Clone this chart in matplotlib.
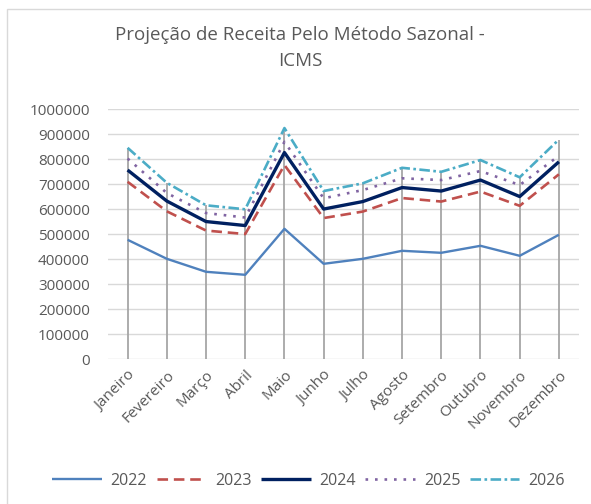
import numpy as np
import matplotlib

matplotlib.use("Agg")
import matplotlib.pyplot as plt
from matplotlib.patches import Rectangle

# Dados (valores aproximados)
meses = ["Janeiro", "Fevereiro", "Março", "Abril", "Maio", "Junho", "Julho",
         "Agosto", "Setembro", "Outubro", "Novembro", "Dezembro"]
anos = ["2022", "2023", "2024", "2025", "2026"]

icms_2022 = [478000, 402000, 350000, 338000, 522000, 382000,
             402000, 434000, 426000, 454000, 414000, 498000]
icms_2023 = [710000, 592000, 515000, 501000, 777000, 565000,
             591000, 645000, 631000, 671000, 614000, 740000]
icms_2024 = [757000, 633000, 551000, 535000, 827000, 601000,
             631000, 687000, 673000, 717000, 651000, 790000]
icms_2025 = [803000, 665000, 585000, 567000, 870000, 644000,
             677000, 724000, 717000, 753000, 697000, 814000]
icms_2026 = [846000, 706000, 616000, 600000, 925000, 673000,
             704000, 766000, 750000, 797000, 728000, 879000]

yticks = list(range(0, 1000001, 100000))

TXT = "#595959"
plt.rcParams["font.family"] = ["Open Sans", "DejaVu Sans"]

fig = plt.figure(figsize=(5.91, 5.04), dpi=100)
fig.patches.append(Rectangle((7 / 591, -0.01), 1.0, 1 - 9 / 504 + 0.01,
                             transform=fig.transFigure, fill=False,
                             edgecolor="#D9D9D9", lw=1.0))

ax = fig.add_axes([108 / 591, 1 - 359.3 / 504, 470.5 / 591, 250 / 504])

x = np.arange(len(meses))
series = [icms_2022, icms_2023, icms_2024, icms_2025, icms_2026]
topo = np.max(np.array(series), axis=0)

# linhas de queda (drop lines)
ax.vlines(x, 0, topo, colors="#A6A6A6", lw=1.3, zorder=2)

estilos = [
    dict(color="#4F81BD", lw=1.7, ls="-"),
    dict(color="#C0504D", lw=1.9, dashes=(4, 2.2)),
    dict(color="#002060", lw=2.4, ls="-"),
    dict(color="#8064A2", lw=1.9, dashes=(1, 2.6)),
    dict(color="#4BACC6", lw=1.9, dashes=(4, 1.3, 1, 1.3)),
]
for ano, vals, st in zip(anos, series, estilos):
    ax.plot(x, vals, label=ano, zorder=3, solid_capstyle="butt", **st)

ax.set_xlim(-0.5, len(meses) - 0.5)
ax.set_ylim(0, 1000000)
ax.set_yticks(yticks)
ax.set_yticklabels([str(v) for v in yticks])
ax.yaxis.grid(True, color="#D9D9D9", lw=1.0, zorder=0)
ax.set_axisbelow(True)
for s in ax.spines.values():
    s.set_visible(False)
ax.tick_params(axis="both", length=0, colors=TXT, labelsize=11)
ax.tick_params(axis="y", pad=13)
ax.set_xticks(x)
ax.set_xticklabels(meses, rotation=45, ha="right", rotation_mode="anchor")
ax.tick_params(axis="x", pad=6)

fig.text(0.508, 1 - 48 / 504, "Projeção de Receita Pelo Método Sazonal -\nICMS",
         ha="center", va="center", fontsize=13.5, color=TXT, linespacing=1.5)

fig.legend(loc="center", bbox_to_anchor=(0.522, 1 - 481 / 504), ncol=5,
           frameon=False, fontsize=11.5, labelcolor=TXT, handlelength=3.1,
           columnspacing=0.6, handletextpad=0.55)

fig.savefig("out.png", dpi=100)
